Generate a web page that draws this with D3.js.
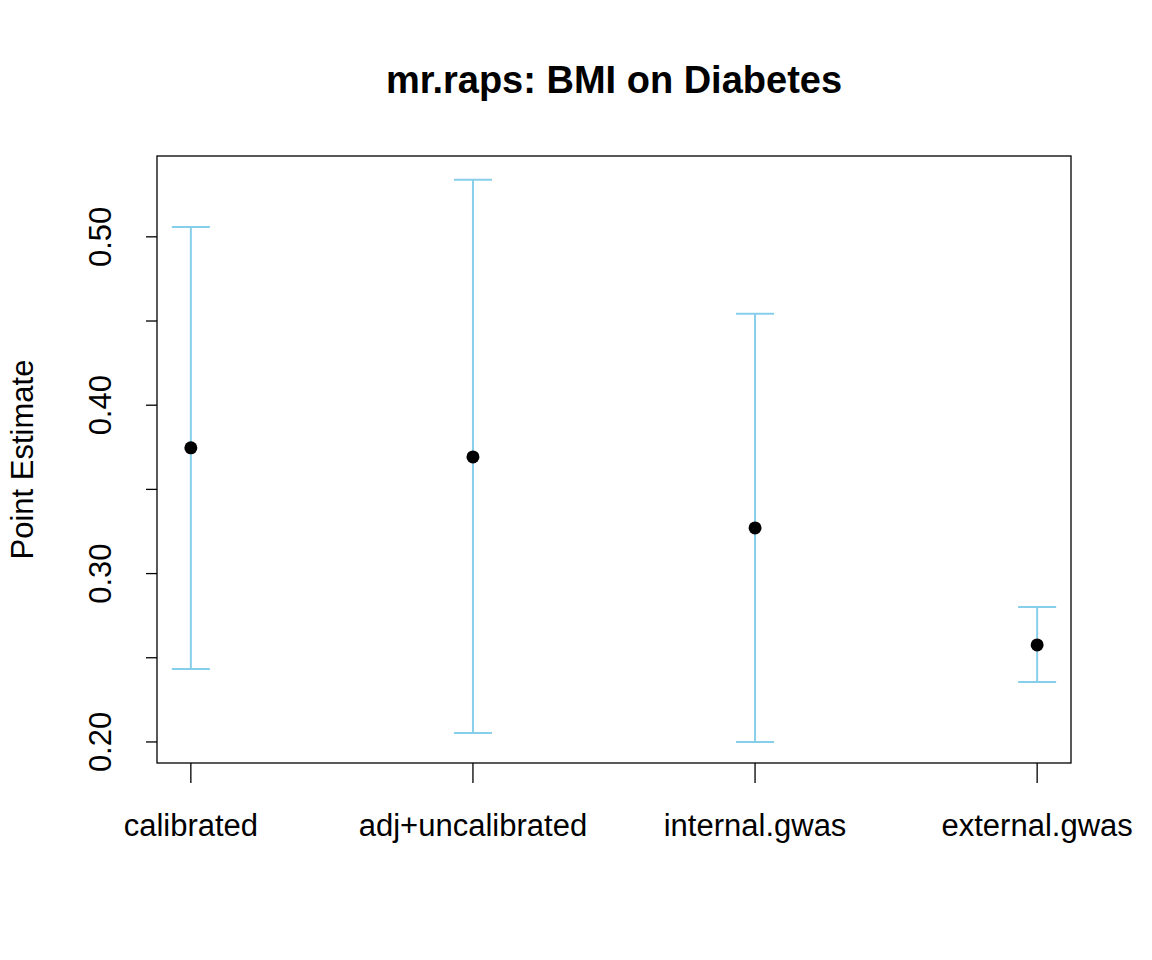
<!DOCTYPE html>
<html><head><meta charset="utf-8">
<script src="https://cdn.jsdelivr.net/npm/d3@7"></script>
<style>body{margin:0;background:#fff}</style></head>
<body><svg id="c" width="1152" height="960"></svg>
<script>
const categories = ["calibrated","adj+uncalibrated","internal.gwas","external.gwas"];
const estimates = [0.3747,0.3693,0.3271,0.2576];
const lowers = [0.2433,0.2053,0.2000,0.2356];
const uppers = [0.5059,0.5339,0.4543,0.2802];
const yTicks = [0.20,0.25,0.30,0.35,0.40,0.45,0.50];
const yLabels = [0.20,0.30,0.40,0.50];

const svg = d3.select("#c");
const font = "Liberation Sans, Arial, Helvetica, sans-serif";
const L=157,R=1071,T=156,B=763;
const x = d3.scaleLinear().domain([0.88,4.12]).range([L,R]);
const y = d3.scaleLinear().domain([0.1875,0.548]).range([B,T]);

svg.append("rect").attr("x",L).attr("y",T).attr("width",R-L).attr("height",B-T)
  .attr("fill","none").attr("stroke","#000").attr("stroke-width",1.3);

const ya = svg.append("g");
yTicks.forEach(t=>{
  ya.append("line").attr("x1",L).attr("x2",L-11).attr("y1",y(t)).attr("y2",y(t)).attr("stroke","#000").attr("stroke-width",1.3);
});
yLabels.forEach(t=>{
  ya.append("text").attr("transform",`translate(111,${y(t)}) rotate(-90)`).attr("text-anchor","middle")
    .attr("font-family",font).attr("font-size",31).text(t.toFixed(2));
});
categories.forEach((c,i)=>{
  svg.append("line").attr("x1",x(i+1)).attr("x2",x(i+1)).attr("y1",B).attr("y2",B+20).attr("stroke","#000").attr("stroke-width",1.3);
  svg.append("text").attr("x",x(i+1)).attr("y",836).attr("text-anchor","middle")
    .attr("font-family",font).attr("font-size",31).text(c);
});
const col="#87CEEB";
categories.forEach((c,i)=>{
  const cx=x(i+1);
  svg.append("line").attr("x1",cx).attr("x2",cx).attr("y1",y(lowers[i])).attr("y2",y(uppers[i])).attr("stroke",col).attr("stroke-width",2);
  [lowers[i],uppers[i]].forEach(v=>svg.append("line").attr("x1",cx-19).attr("x2",cx+19).attr("y1",y(v)).attr("y2",y(v)).attr("stroke",col).attr("stroke-width",2));
  svg.append("circle").attr("cx",cx).attr("cy",y(estimates[i])).attr("r",6.5).attr("fill","#000");
});
svg.append("text").attr("x",(L+R)/2).attr("y",93).attr("text-anchor","middle")
  .attr("font-family",font).attr("font-size",38).attr("font-weight","bold").text("mr.raps: BMI on Diabetes");
svg.append("text").attr("transform",`translate(33,${(T+B)/2}) rotate(-90)`).attr("text-anchor","middle")
  .attr("font-family",font).attr("font-size",31).text("Point Estimate");
</script></body></html>
